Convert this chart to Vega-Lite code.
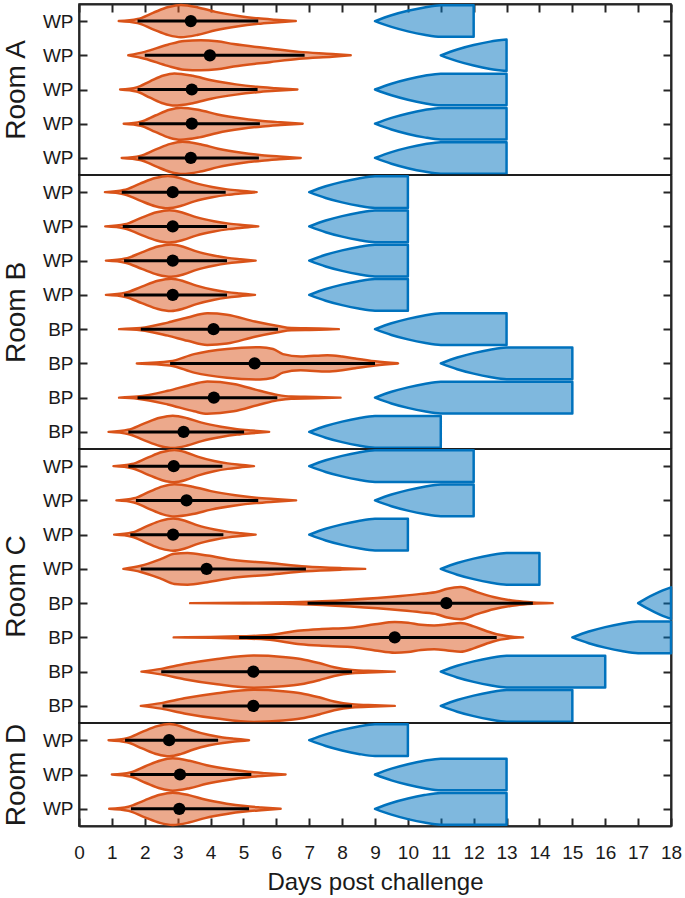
{
"$schema":"https://vega.github.io/schema/vega-lite/v6.json",
"padding":{"left":1,"top":2,"right":5,"bottom":4},
"spacing":0,
"bounds":"flush",
"datasets":{
"A":[
{"k":"v","r":1,"x":1.21,"lo":1,"hi":1},{"k":"v","r":1,"x":1.78,"lo":0.94,"hi":1.06},{"k":"v","r":1,"x":2.25,"lo":0.76,"hi":1.24},{"k":"v","r":1,"x":2.72,"lo":0.59,"hi":1.41},{"k":"v","r":1,"x":3.1,"lo":0.53,"hi":1.47},{"k":"v","r":1,"x":3.62,"lo":0.6,"hi":1.4},{"k":"v","r":1,"x":4.15,"lo":0.73,"hi":1.27},{"k":"v","r":1,"x":4.85,"lo":0.85,"hi":1.15},{"k":"v","r":1,"x":5.44,"lo":0.92,"hi":1.08},{"k":"v","r":1,"x":5.96,"lo":0.96,"hi":1.04},{"k":"v","r":1,"x":6.59,"lo":1,"hi":1},
{"k":"v","r":2,"x":1.5,"lo":2,"hi":2},{"k":"v","r":2,"x":2.0,"lo":1.9,"hi":2.1},{"k":"v","r":2,"x":2.7,"lo":1.69,"hi":2.31},{"k":"v","r":2,"x":3.2,"lo":1.58,"hi":2.42},{"k":"v","r":2,"x":3.7,"lo":1.56,"hi":2.44},{"k":"v","r":2,"x":4.2,"lo":1.59,"hi":2.41},{"k":"v","r":2,"x":4.7,"lo":1.67,"hi":2.33},{"k":"v","r":2,"x":5.8,"lo":1.8,"hi":2.2},{"k":"v","r":2,"x":6.7,"lo":1.9,"hi":2.1},{"k":"v","r":2,"x":7.7,"lo":1.96,"hi":2.04},{"k":"v","r":2,"x":8.26,"lo":2,"hi":2},
{"k":"v","r":3,"x":1.25,"lo":3,"hi":3},{"k":"v","r":3,"x":1.75,"lo":2.94,"hi":3.06},{"k":"v","r":3,"x":2.16,"lo":2.76,"hi":3.24},{"k":"v","r":3,"x":2.57,"lo":2.59,"hi":3.41},{"k":"v","r":3,"x":2.9,"lo":2.53,"hi":3.47},{"k":"v","r":3,"x":3.46,"lo":2.6,"hi":3.4},{"k":"v","r":3,"x":4.02,"lo":2.73,"hi":3.27},{"k":"v","r":3,"x":4.77,"lo":2.85,"hi":3.15},{"k":"v","r":3,"x":5.41,"lo":2.92,"hi":3.08},{"k":"v","r":3,"x":5.97,"lo":2.96,"hi":3.04},{"k":"v","r":3,"x":6.64,"lo":3,"hi":3},
{"k":"v","r":4,"x":1.36,"lo":4,"hi":4},{"k":"v","r":4,"x":1.88,"lo":3.94,"hi":4.06},{"k":"v","r":4,"x":2.32,"lo":3.76,"hi":4.24},{"k":"v","r":4,"x":2.75,"lo":3.59,"hi":4.41},{"k":"v","r":4,"x":3.1,"lo":3.53,"hi":4.47},{"k":"v","r":4,"x":3.66,"lo":3.6,"hi":4.4},{"k":"v","r":4,"x":4.21,"lo":3.73,"hi":4.27},{"k":"v","r":4,"x":4.95,"lo":3.85,"hi":4.15},{"k":"v","r":4,"x":5.58,"lo":3.92,"hi":4.08},{"k":"v","r":4,"x":6.13,"lo":3.96,"hi":4.04},{"k":"v","r":4,"x":6.8,"lo":4,"hi":4},
{"k":"v","r":5,"x":1.3,"lo":5,"hi":5},{"k":"v","r":5,"x":1.86,"lo":4.94,"hi":5.06},{"k":"v","r":5,"x":2.32,"lo":4.76,"hi":5.24},{"k":"v","r":5,"x":2.78,"lo":4.59,"hi":5.41},{"k":"v","r":5,"x":3.15,"lo":4.53,"hi":5.47},{"k":"v","r":5,"x":3.69,"lo":4.6,"hi":5.4},{"k":"v","r":5,"x":4.23,"lo":4.73,"hi":5.27},{"k":"v","r":5,"x":4.95,"lo":4.85,"hi":5.15},{"k":"v","r":5,"x":5.56,"lo":4.92,"hi":5.08},{"k":"v","r":5,"x":6.09,"lo":4.96,"hi":5.04},{"k":"v","r":5,"x":6.74,"lo":5,"hi":5},
{"k":"b","r":1,"x":9,"lo":1,"hi":1},{"k":"b","r":1,"x":9.5,"lo":0.83,"hi":1.17},{"k":"b","r":1,"x":10,"lo":0.7,"hi":1.3},{"k":"b","r":1,"x":10.5,"lo":0.6,"hi":1.4},{"k":"b","r":1,"x":11,"lo":0.54,"hi":1.46},{"k":"b","r":1,"x":12,"lo":0.54,"hi":1.46},
{"k":"b","r":2,"x":11,"lo":2,"hi":2},{"k":"b","r":2,"x":11.5,"lo":1.83,"hi":2.17},{"k":"b","r":2,"x":12,"lo":1.7,"hi":2.3},{"k":"b","r":2,"x":12.5,"lo":1.6,"hi":2.4},{"k":"b","r":2,"x":13,"lo":1.54,"hi":2.46},
{"k":"b","r":3,"x":9,"lo":3,"hi":3},{"k":"b","r":3,"x":9.5,"lo":2.83,"hi":3.17},{"k":"b","r":3,"x":10,"lo":2.7,"hi":3.3},{"k":"b","r":3,"x":10.5,"lo":2.6,"hi":3.4},{"k":"b","r":3,"x":11,"lo":2.54,"hi":3.46},{"k":"b","r":3,"x":13,"lo":2.54,"hi":3.46},
{"k":"b","r":4,"x":9,"lo":4,"hi":4},{"k":"b","r":4,"x":9.5,"lo":3.83,"hi":4.17},{"k":"b","r":4,"x":10,"lo":3.7,"hi":4.3},{"k":"b","r":4,"x":10.5,"lo":3.6,"hi":4.4},{"k":"b","r":4,"x":11,"lo":3.54,"hi":4.46},{"k":"b","r":4,"x":13,"lo":3.54,"hi":4.46},
{"k":"b","r":5,"x":9,"lo":5,"hi":5},{"k":"b","r":5,"x":9.5,"lo":4.83,"hi":5.17},{"k":"b","r":5,"x":10,"lo":4.7,"hi":5.3},{"k":"b","r":5,"x":10.5,"lo":4.6,"hi":5.4},{"k":"b","r":5,"x":11,"lo":4.54,"hi":5.46},{"k":"b","r":5,"x":13,"lo":4.54,"hi":5.46},
{"k":"s","r":1,"m":3.4,"cl":1.78,"ch":5.45},{"k":"s","r":2,"m":3.98,"cl":2.0,"ch":6.86},{"k":"s","r":3,"m":3.43,"cl":1.78,"ch":5.43},{"k":"s","r":4,"m":3.43,"cl":1.83,"ch":5.5},{"k":"s","r":5,"m":3.4,"cl":1.8,"ch":5.47}
],
"B":[
{"k":"v","r":1,"x":0.79,"lo":1,"hi":1},{"k":"v","r":1,"x":1.36,"lo":0.94,"hi":1.06},{"k":"v","r":1,"x":1.84,"lo":0.76,"hi":1.24},{"k":"v","r":1,"x":2.32,"lo":0.59,"hi":1.41},{"k":"v","r":1,"x":2.7,"lo":0.53,"hi":1.47},{"k":"v","r":1,"x":3.11,"lo":0.6,"hi":1.4},{"k":"v","r":1,"x":3.51,"lo":0.73,"hi":1.27},{"k":"v","r":1,"x":4.05,"lo":0.85,"hi":1.15},{"k":"v","r":1,"x":4.51,"lo":0.92,"hi":1.08},{"k":"v","r":1,"x":4.91,"lo":0.96,"hi":1.04},{"k":"v","r":1,"x":5.4,"lo":1,"hi":1},
{"k":"v","r":2,"x":0.8,"lo":2,"hi":2},{"k":"v","r":2,"x":1.39,"lo":1.94,"hi":2.06},{"k":"v","r":2,"x":1.87,"lo":1.76,"hi":2.24},{"k":"v","r":2,"x":2.36,"lo":1.59,"hi":2.41},{"k":"v","r":2,"x":2.75,"lo":1.53,"hi":2.47},{"k":"v","r":2,"x":3.16,"lo":1.6,"hi":2.4},{"k":"v","r":2,"x":3.56,"lo":1.73,"hi":2.27},{"k":"v","r":2,"x":4.1,"lo":1.85,"hi":2.15},{"k":"v","r":2,"x":4.56,"lo":1.92,"hi":2.08},{"k":"v","r":2,"x":4.96,"lo":1.96,"hi":2.04},{"k":"v","r":2,"x":5.45,"lo":2,"hi":2},
{"k":"v","r":3,"x":0.82,"lo":3,"hi":3},{"k":"v","r":3,"x":1.41,"lo":2.94,"hi":3.06},{"k":"v","r":3,"x":1.91,"lo":2.76,"hi":3.24},{"k":"v","r":3,"x":2.4,"lo":2.59,"hi":3.41},{"k":"v","r":3,"x":2.8,"lo":2.53,"hi":3.47},{"k":"v","r":3,"x":3.19,"lo":2.6,"hi":3.4},{"k":"v","r":3,"x":3.57,"lo":2.73,"hi":3.27},{"k":"v","r":3,"x":4.09,"lo":2.85,"hi":3.15},{"k":"v","r":3,"x":4.52,"lo":2.92,"hi":3.08},{"k":"v","r":3,"x":4.91,"lo":2.96,"hi":3.04},{"k":"v","r":3,"x":5.37,"lo":3,"hi":3},
{"k":"v","r":4,"x":0.82,"lo":4,"hi":4},{"k":"v","r":4,"x":1.41,"lo":3.94,"hi":4.06},{"k":"v","r":4,"x":1.91,"lo":3.76,"hi":4.24},{"k":"v","r":4,"x":2.4,"lo":3.59,"hi":4.41},{"k":"v","r":4,"x":2.8,"lo":3.53,"hi":4.47},{"k":"v","r":4,"x":3.18,"lo":3.6,"hi":4.4},{"k":"v","r":4,"x":3.57,"lo":3.73,"hi":4.27},{"k":"v","r":4,"x":4.08,"lo":3.85,"hi":4.15},{"k":"v","r":4,"x":4.51,"lo":3.92,"hi":4.08},{"k":"v","r":4,"x":4.89,"lo":3.96,"hi":4.04},{"k":"v","r":4,"x":5.35,"lo":4,"hi":4},
{"k":"v","r":5,"x":1.22,"lo":5,"hi":5},{"k":"v","r":5,"x":1.88,"lo":4.97,"hi":5.03},{"k":"v","r":5,"x":2.7,"lo":4.81,"hi":5.19},{"k":"v","r":5,"x":3.3,"lo":4.66,"hi":5.34},{"k":"v","r":5,"x":3.9,"lo":4.54,"hi":5.46},{"k":"v","r":5,"x":4.5,"lo":4.58,"hi":5.42},{"k":"v","r":5,"x":5.35,"lo":4.78,"hi":5.22},{"k":"v","r":5,"x":6.05,"lo":4.91,"hi":5.09},{"k":"v","r":5,"x":6.45,"lo":4.97,"hi":5.03},{"k":"v","r":5,"x":7.3,"lo":4.98,"hi":5.02},{"k":"v","r":5,"x":7.9,"lo":5,"hi":5},
{"k":"v","r":6,"x":1.76,"lo":6,"hi":6},{"k":"v","r":6,"x":2.77,"lo":5.94,"hi":6.06},{"k":"v","r":6,"x":3.5,"lo":5.73,"hi":6.27},{"k":"v","r":6,"x":4.5,"lo":5.58,"hi":6.42},{"k":"v","r":6,"x":5.5,"lo":5.53,"hi":6.47},{"k":"v","r":6,"x":5.9,"lo":5.58,"hi":6.42},{"k":"v","r":6,"x":6.2,"lo":5.73,"hi":6.27},{"k":"v","r":6,"x":6.74,"lo":5.8,"hi":6.2},{"k":"v","r":6,"x":7.55,"lo":5.76,"hi":6.24},{"k":"v","r":6,"x":8.0,"lo":5.8,"hi":6.2},{"k":"v","r":6,"x":8.4,"lo":5.86,"hi":6.14},{"k":"v","r":6,"x":9.0,"lo":5.94,"hi":6.06},{"k":"v","r":6,"x":9.7,"lo":6,"hi":6},
{"k":"v","r":7,"x":1.22,"lo":7,"hi":7},{"k":"v","r":7,"x":1.78,"lo":6.97,"hi":7.03},{"k":"v","r":7,"x":2.7,"lo":6.8,"hi":7.2},{"k":"v","r":7,"x":3.5,"lo":6.6,"hi":7.4},{"k":"v","r":7,"x":3.9,"lo":6.53,"hi":7.47},{"k":"v","r":7,"x":4.7,"lo":6.6,"hi":7.4},{"k":"v","r":7,"x":5.5,"lo":6.8,"hi":7.2},{"k":"v","r":7,"x":6.03,"lo":6.92,"hi":7.08},{"k":"v","r":7,"x":6.45,"lo":6.97,"hi":7.03},{"k":"v","r":7,"x":7.2,"lo":6.98,"hi":7.02},{"k":"v","r":7,"x":7.95,"lo":7,"hi":7},
{"k":"v","r":8,"x":0.9,"lo":8,"hi":8},{"k":"v","r":8,"x":1.49,"lo":7.94,"hi":8.06},{"k":"v","r":8,"x":1.97,"lo":7.76,"hi":8.24},{"k":"v","r":8,"x":2.46,"lo":7.59,"hi":8.41},{"k":"v","r":8,"x":2.85,"lo":7.53,"hi":8.47},{"k":"v","r":8,"x":3.29,"lo":7.6,"hi":8.4},{"k":"v","r":8,"x":3.73,"lo":7.73,"hi":8.27},{"k":"v","r":8,"x":4.32,"lo":7.85,"hi":8.15},{"k":"v","r":8,"x":4.81,"lo":7.92,"hi":8.08},{"k":"v","r":8,"x":5.25,"lo":7.96,"hi":8.04},{"k":"v","r":8,"x":5.78,"lo":8,"hi":8},
{"k":"b","r":1,"x":7,"lo":1,"hi":1},{"k":"b","r":1,"x":7.5,"lo":0.83,"hi":1.17},{"k":"b","r":1,"x":8,"lo":0.7,"hi":1.3},{"k":"b","r":1,"x":8.5,"lo":0.6,"hi":1.4},{"k":"b","r":1,"x":9,"lo":0.54,"hi":1.46},{"k":"b","r":1,"x":10,"lo":0.54,"hi":1.46},
{"k":"b","r":2,"x":7,"lo":2,"hi":2},{"k":"b","r":2,"x":7.5,"lo":1.83,"hi":2.17},{"k":"b","r":2,"x":8,"lo":1.7,"hi":2.3},{"k":"b","r":2,"x":8.5,"lo":1.6,"hi":2.4},{"k":"b","r":2,"x":9,"lo":1.54,"hi":2.46},{"k":"b","r":2,"x":10,"lo":1.54,"hi":2.46},
{"k":"b","r":3,"x":7,"lo":3,"hi":3},{"k":"b","r":3,"x":7.5,"lo":2.83,"hi":3.17},{"k":"b","r":3,"x":8,"lo":2.7,"hi":3.3},{"k":"b","r":3,"x":8.5,"lo":2.6,"hi":3.4},{"k":"b","r":3,"x":9,"lo":2.54,"hi":3.46},{"k":"b","r":3,"x":10,"lo":2.54,"hi":3.46},
{"k":"b","r":4,"x":7,"lo":4,"hi":4},{"k":"b","r":4,"x":7.5,"lo":3.83,"hi":4.17},{"k":"b","r":4,"x":8,"lo":3.7,"hi":4.3},{"k":"b","r":4,"x":8.5,"lo":3.6,"hi":4.4},{"k":"b","r":4,"x":9,"lo":3.54,"hi":4.46},{"k":"b","r":4,"x":10,"lo":3.54,"hi":4.46},
{"k":"b","r":5,"x":9,"lo":5,"hi":5},{"k":"b","r":5,"x":9.5,"lo":4.83,"hi":5.17},{"k":"b","r":5,"x":10,"lo":4.7,"hi":5.3},{"k":"b","r":5,"x":10.5,"lo":4.6,"hi":5.4},{"k":"b","r":5,"x":11,"lo":4.54,"hi":5.46},{"k":"b","r":5,"x":13,"lo":4.54,"hi":5.46},
{"k":"b","r":6,"x":11,"lo":6,"hi":6},{"k":"b","r":6,"x":11.5,"lo":5.83,"hi":6.17},{"k":"b","r":6,"x":12,"lo":5.7,"hi":6.3},{"k":"b","r":6,"x":12.5,"lo":5.6,"hi":6.4},{"k":"b","r":6,"x":13,"lo":5.54,"hi":6.46},{"k":"b","r":6,"x":15,"lo":5.54,"hi":6.46},
{"k":"b","r":7,"x":9,"lo":7,"hi":7},{"k":"b","r":7,"x":9.5,"lo":6.83,"hi":7.17},{"k":"b","r":7,"x":10,"lo":6.7,"hi":7.3},{"k":"b","r":7,"x":10.5,"lo":6.6,"hi":7.4},{"k":"b","r":7,"x":11,"lo":6.54,"hi":7.46},{"k":"b","r":7,"x":15,"lo":6.54,"hi":7.46},
{"k":"b","r":8,"x":7,"lo":8,"hi":8},{"k":"b","r":8,"x":7.5,"lo":7.83,"hi":8.17},{"k":"b","r":8,"x":8,"lo":7.7,"hi":8.3},{"k":"b","r":8,"x":8.5,"lo":7.6,"hi":8.4},{"k":"b","r":8,"x":9,"lo":7.54,"hi":8.46},{"k":"b","r":8,"x":11,"lo":7.54,"hi":8.46},
{"k":"s","r":1,"m":2.85,"cl":1.3,"ch":4.46},{"k":"s","r":2,"m":2.85,"cl":1.33,"ch":4.5},{"k":"s","r":3,"m":2.85,"cl":1.37,"ch":4.5},{"k":"s","r":4,"m":2.85,"cl":1.37,"ch":4.5},{"k":"s","r":5,"m":4.09,"cl":1.88,"ch":6.05},{"k":"s","r":6,"m":5.34,"cl":2.77,"ch":9.0},{"k":"s","r":7,"m":4.1,"cl":1.78,"ch":6.03},{"k":"s","r":8,"m":3.18,"cl":1.5,"ch":5.02}
],
"C":[
{"k":"v","r":1,"x":1.05,"lo":1,"hi":1},{"k":"v","r":1,"x":1.61,"lo":0.94,"hi":1.06},{"k":"v","r":1,"x":2.07,"lo":0.76,"hi":1.24},{"k":"v","r":1,"x":2.53,"lo":0.59,"hi":1.41},{"k":"v","r":1,"x":2.9,"lo":0.53,"hi":1.47},{"k":"v","r":1,"x":3.26,"lo":0.6,"hi":1.4},{"k":"v","r":1,"x":3.63,"lo":0.73,"hi":1.27},{"k":"v","r":1,"x":4.11,"lo":0.85,"hi":1.15},{"k":"v","r":1,"x":4.52,"lo":0.92,"hi":1.08},{"k":"v","r":1,"x":4.88,"lo":0.96,"hi":1.04},{"k":"v","r":1,"x":5.32,"lo":1,"hi":1},
{"k":"v","r":2,"x":1.14,"lo":2,"hi":2},{"k":"v","r":2,"x":1.67,"lo":1.94,"hi":2.06},{"k":"v","r":2,"x":2.11,"lo":1.76,"hi":2.24},{"k":"v","r":2,"x":2.55,"lo":1.59,"hi":2.41},{"k":"v","r":2,"x":2.9,"lo":1.53,"hi":2.47},{"k":"v","r":2,"x":3.46,"lo":1.6,"hi":2.4},{"k":"v","r":2,"x":4.01,"lo":1.73,"hi":2.27},{"k":"v","r":2,"x":4.75,"lo":1.85,"hi":2.15},{"k":"v","r":2,"x":5.38,"lo":1.92,"hi":2.08},{"k":"v","r":2,"x":5.93,"lo":1.96,"hi":2.04},{"k":"v","r":2,"x":6.6,"lo":2,"hi":2},
{"k":"v","r":3,"x":1.07,"lo":3,"hi":3},{"k":"v","r":3,"x":1.61,"lo":2.94,"hi":3.06},{"k":"v","r":3,"x":2.05,"lo":2.76,"hi":3.24},{"k":"v","r":3,"x":2.5,"lo":2.59,"hi":3.41},{"k":"v","r":3,"x":2.86,"lo":2.53,"hi":3.47},{"k":"v","r":3,"x":3.24,"lo":2.6,"hi":3.4},{"k":"v","r":3,"x":3.61,"lo":2.73,"hi":3.27},{"k":"v","r":3,"x":4.12,"lo":2.85,"hi":3.15},{"k":"v","r":3,"x":4.54,"lo":2.92,"hi":3.08},{"k":"v","r":3,"x":4.92,"lo":2.96,"hi":3.04},{"k":"v","r":3,"x":5.37,"lo":3,"hi":3},
{"k":"v","r":4,"x":1.35,"lo":4,"hi":4},{"k":"v","r":4,"x":1.88,"lo":3.91,"hi":4.09},{"k":"v","r":4,"x":2.5,"lo":3.71,"hi":4.29},{"k":"v","r":4,"x":2.9,"lo":3.56,"hi":4.44},{"k":"v","r":4,"x":3.3,"lo":3.54,"hi":4.46},{"k":"v","r":4,"x":3.9,"lo":3.61,"hi":4.39},{"k":"v","r":4,"x":4.7,"lo":3.74,"hi":4.26},{"k":"v","r":4,"x":5.8,"lo":3.83,"hi":4.17},{"k":"v","r":4,"x":6.9,"lo":3.93,"hi":4.07},{"k":"v","r":4,"x":8.0,"lo":3.98,"hi":4.02},{"k":"v","r":4,"x":8.7,"lo":4,"hi":4},
{"k":"v","r":5,"x":3.38,"lo":5,"hi":5},{"k":"v","r":5,"x":5.0,"lo":4.99,"hi":5.01},{"k":"v","r":5,"x":6.74,"lo":4.97,"hi":5.03},{"k":"v","r":5,"x":8.26,"lo":4.9,"hi":5.1},{"k":"v","r":5,"x":9.78,"lo":4.79,"hi":5.21},{"k":"v","r":5,"x":10.4,"lo":4.73,"hi":5.27},{"k":"v","r":5,"x":10.9,"lo":4.67,"hi":5.33},{"k":"v","r":5,"x":11.2,"lo":4.58,"hi":5.42},{"k":"v","r":5,"x":11.6,"lo":4.53,"hi":5.47},{"k":"v","r":5,"x":12.1,"lo":4.68,"hi":5.32},{"k":"v","r":5,"x":12.6,"lo":4.82,"hi":5.18},{"k":"v","r":5,"x":13.3,"lo":4.94,"hi":5.06},{"k":"v","r":5,"x":13.8,"lo":4.98,"hi":5.02},{"k":"v","r":5,"x":14.4,"lo":5,"hi":5},
{"k":"v","r":6,"x":2.88,"lo":6,"hi":6},{"k":"v","r":6,"x":4.0,"lo":5.99,"hi":6.01},{"k":"v","r":6,"x":4.87,"lo":5.97,"hi":6.03},{"k":"v","r":6,"x":5.7,"lo":5.94,"hi":6.06},{"k":"v","r":6,"x":6.74,"lo":5.8,"hi":6.2},{"k":"v","r":6,"x":7.3,"lo":5.76,"hi":6.24},{"k":"v","r":6,"x":8.26,"lo":5.72,"hi":6.28},{"k":"v","r":6,"x":9.0,"lo":5.62,"hi":6.38},{"k":"v","r":6,"x":9.6,"lo":5.55,"hi":6.45},{"k":"v","r":6,"x":10.0,"lo":5.57,"hi":6.43},{"k":"v","r":6,"x":10.4,"lo":5.63,"hi":6.37},{"k":"v","r":6,"x":10.8,"lo":5.65,"hi":6.35},{"k":"v","r":6,"x":11.2,"lo":5.62,"hi":6.38},{"k":"v","r":6,"x":11.6,"lo":5.58,"hi":6.42},{"k":"v","r":6,"x":12.0,"lo":5.68,"hi":6.32},{"k":"v","r":6,"x":12.4,"lo":5.82,"hi":6.18},{"k":"v","r":6,"x":12.7,"lo":5.91,"hi":6.09},{"k":"v","r":6,"x":13.0,"lo":5.96,"hi":6.04},{"k":"v","r":6,"x":13.5,"lo":6,"hi":6},
{"k":"v","r":7,"x":1.9,"lo":7,"hi":7},{"k":"v","r":7,"x":2.5,"lo":6.92,"hi":7.08},{"k":"v","r":7,"x":3.2,"lo":6.78,"hi":7.22},{"k":"v","r":7,"x":4.2,"lo":6.63,"hi":7.37},{"k":"v","r":7,"x":5.3,"lo":6.53,"hi":7.47},{"k":"v","r":7,"x":6.2,"lo":6.57,"hi":7.43},{"k":"v","r":7,"x":6.74,"lo":6.63,"hi":7.37},{"k":"v","r":7,"x":7.3,"lo":6.75,"hi":7.25},{"k":"v","r":7,"x":7.76,"lo":6.87,"hi":7.13},{"k":"v","r":7,"x":8.3,"lo":6.95,"hi":7.05},{"k":"v","r":7,"x":9.0,"lo":6.98,"hi":7.02},{"k":"v","r":7,"x":9.6,"lo":7,"hi":7},
{"k":"v","r":8,"x":1.88,"lo":8,"hi":8},{"k":"v","r":8,"x":2.5,"lo":7.92,"hi":8.08},{"k":"v","r":8,"x":3.2,"lo":7.78,"hi":8.22},{"k":"v","r":8,"x":4.2,"lo":7.63,"hi":8.37},{"k":"v","r":8,"x":5.3,"lo":7.53,"hi":8.47},{"k":"v","r":8,"x":6.2,"lo":7.57,"hi":8.43},{"k":"v","r":8,"x":6.74,"lo":7.63,"hi":8.37},{"k":"v","r":8,"x":7.3,"lo":7.75,"hi":8.25},{"k":"v","r":8,"x":7.76,"lo":7.87,"hi":8.13},{"k":"v","r":8,"x":8.3,"lo":7.95,"hi":8.05},{"k":"v","r":8,"x":9.0,"lo":7.98,"hi":8.02},{"k":"v","r":8,"x":9.6,"lo":8,"hi":8},
{"k":"b","r":1,"x":7,"lo":1,"hi":1},{"k":"b","r":1,"x":7.5,"lo":0.83,"hi":1.17},{"k":"b","r":1,"x":8,"lo":0.7,"hi":1.3},{"k":"b","r":1,"x":8.5,"lo":0.6,"hi":1.4},{"k":"b","r":1,"x":9,"lo":0.54,"hi":1.46},{"k":"b","r":1,"x":12,"lo":0.54,"hi":1.46},
{"k":"b","r":2,"x":9,"lo":2,"hi":2},{"k":"b","r":2,"x":9.5,"lo":1.83,"hi":2.17},{"k":"b","r":2,"x":10,"lo":1.7,"hi":2.3},{"k":"b","r":2,"x":10.5,"lo":1.6,"hi":2.4},{"k":"b","r":2,"x":11,"lo":1.54,"hi":2.46},{"k":"b","r":2,"x":12,"lo":1.54,"hi":2.46},
{"k":"b","r":3,"x":7,"lo":3,"hi":3},{"k":"b","r":3,"x":7.5,"lo":2.83,"hi":3.17},{"k":"b","r":3,"x":8,"lo":2.7,"hi":3.3},{"k":"b","r":3,"x":8.5,"lo":2.6,"hi":3.4},{"k":"b","r":3,"x":9,"lo":2.54,"hi":3.46},{"k":"b","r":3,"x":10,"lo":2.54,"hi":3.46},
{"k":"b","r":4,"x":11,"lo":4,"hi":4},{"k":"b","r":4,"x":11.5,"lo":3.83,"hi":4.17},{"k":"b","r":4,"x":12,"lo":3.7,"hi":4.3},{"k":"b","r":4,"x":12.5,"lo":3.6,"hi":4.4},{"k":"b","r":4,"x":13,"lo":3.54,"hi":4.46},{"k":"b","r":4,"x":14,"lo":3.54,"hi":4.46},
{"k":"b","r":5,"x":17,"lo":5,"hi":5},{"k":"b","r":5,"x":17.25,"lo":4.86,"hi":5.14},{"k":"b","r":5,"x":17.5,"lo":4.74,"hi":5.26},{"k":"b","r":5,"x":17.75,"lo":4.63,"hi":5.37},{"k":"b","r":5,"x":18,"lo":4.54,"hi":5.46},
{"k":"b","r":6,"x":15,"lo":6,"hi":6},{"k":"b","r":6,"x":15.5,"lo":5.83,"hi":6.17},{"k":"b","r":6,"x":16,"lo":5.7,"hi":6.3},{"k":"b","r":6,"x":16.5,"lo":5.6,"hi":6.4},{"k":"b","r":6,"x":17,"lo":5.54,"hi":6.46},{"k":"b","r":6,"x":18,"lo":5.54,"hi":6.46},
{"k":"b","r":7,"x":11,"lo":7,"hi":7},{"k":"b","r":7,"x":11.5,"lo":6.83,"hi":7.17},{"k":"b","r":7,"x":12,"lo":6.7,"hi":7.3},{"k":"b","r":7,"x":12.5,"lo":6.6,"hi":7.4},{"k":"b","r":7,"x":13,"lo":6.54,"hi":7.46},{"k":"b","r":7,"x":16,"lo":6.54,"hi":7.46},
{"k":"b","r":8,"x":11,"lo":8,"hi":8},{"k":"b","r":8,"x":11.5,"lo":7.83,"hi":8.17},{"k":"b","r":8,"x":12,"lo":7.7,"hi":8.3},{"k":"b","r":8,"x":12.5,"lo":7.6,"hi":8.4},{"k":"b","r":8,"x":13,"lo":7.54,"hi":8.46},{"k":"b","r":8,"x":15,"lo":7.54,"hi":8.46},
{"k":"s","r":1,"m":2.88,"cl":1.5,"ch":4.36},{"k":"s","r":2,"m":3.27,"cl":1.73,"ch":5.45},{"k":"s","r":3,"m":2.86,"cl":1.56,"ch":4.39},{"k":"s","r":4,"m":3.88,"cl":1.88,"ch":6.9},{"k":"s","r":5,"m":11.17,"cl":6.95,"ch":13.8},{"k":"s","r":6,"m":9.6,"cl":4.87,"ch":12.7},{"k":"s","r":7,"m":5.3,"cl":2.5,"ch":8.3},{"k":"s","r":8,"m":5.3,"cl":2.54,"ch":8.3}
],
"D":[
{"k":"v","r":1,"x":0.9,"lo":1,"hi":1},{"k":"v","r":1,"x":1.46,"lo":0.94,"hi":1.06},{"k":"v","r":1,"x":1.92,"lo":0.76,"hi":1.24},{"k":"v","r":1,"x":2.38,"lo":0.59,"hi":1.41},{"k":"v","r":1,"x":2.75,"lo":0.53,"hi":1.47},{"k":"v","r":1,"x":3.11,"lo":0.6,"hi":1.4},{"k":"v","r":1,"x":3.48,"lo":0.73,"hi":1.27},{"k":"v","r":1,"x":3.96,"lo":0.85,"hi":1.15},{"k":"v","r":1,"x":4.37,"lo":0.92,"hi":1.08},{"k":"v","r":1,"x":4.73,"lo":0.96,"hi":1.04},{"k":"v","r":1,"x":5.17,"lo":1,"hi":1},
{"k":"v","r":2,"x":1.0,"lo":2,"hi":2},{"k":"v","r":2,"x":1.56,"lo":1.94,"hi":2.06},{"k":"v","r":2,"x":2.02,"lo":1.76,"hi":2.24},{"k":"v","r":2,"x":2.48,"lo":1.59,"hi":2.41},{"k":"v","r":2,"x":2.85,"lo":1.53,"hi":2.47},{"k":"v","r":2,"x":3.36,"lo":1.6,"hi":2.4},{"k":"v","r":2,"x":3.88,"lo":1.73,"hi":2.27},{"k":"v","r":2,"x":4.57,"lo":1.85,"hi":2.15},{"k":"v","r":2,"x":5.15,"lo":1.92,"hi":2.08},{"k":"v","r":2,"x":5.66,"lo":1.96,"hi":2.04},{"k":"v","r":2,"x":6.28,"lo":2,"hi":2},
{"k":"v","r":3,"x":0.92,"lo":3,"hi":3},{"k":"v","r":3,"x":1.5,"lo":2.94,"hi":3.06},{"k":"v","r":3,"x":1.98,"lo":2.76,"hi":3.24},{"k":"v","r":3,"x":2.46,"lo":2.59,"hi":3.41},{"k":"v","r":3,"x":2.85,"lo":2.53,"hi":3.47},{"k":"v","r":3,"x":3.34,"lo":2.6,"hi":3.4},{"k":"v","r":3,"x":3.83,"lo":2.73,"hi":3.27},{"k":"v","r":3,"x":4.49,"lo":2.85,"hi":3.15},{"k":"v","r":3,"x":5.05,"lo":2.92,"hi":3.08},{"k":"v","r":3,"x":5.54,"lo":2.96,"hi":3.04},{"k":"v","r":3,"x":6.13,"lo":3,"hi":3},
{"k":"b","r":1,"x":7,"lo":1,"hi":1},{"k":"b","r":1,"x":7.5,"lo":0.83,"hi":1.17},{"k":"b","r":1,"x":8,"lo":0.7,"hi":1.3},{"k":"b","r":1,"x":8.5,"lo":0.6,"hi":1.4},{"k":"b","r":1,"x":9,"lo":0.54,"hi":1.46},{"k":"b","r":1,"x":10,"lo":0.54,"hi":1.46},
{"k":"b","r":2,"x":9,"lo":2,"hi":2},{"k":"b","r":2,"x":9.5,"lo":1.83,"hi":2.17},{"k":"b","r":2,"x":10,"lo":1.7,"hi":2.3},{"k":"b","r":2,"x":10.5,"lo":1.6,"hi":2.4},{"k":"b","r":2,"x":11,"lo":1.54,"hi":2.46},{"k":"b","r":2,"x":13,"lo":1.54,"hi":2.46},
{"k":"b","r":3,"x":9,"lo":3,"hi":3},{"k":"b","r":3,"x":9.5,"lo":2.83,"hi":3.17},{"k":"b","r":3,"x":10,"lo":2.7,"hi":3.3},{"k":"b","r":3,"x":10.5,"lo":2.6,"hi":3.4},{"k":"b","r":3,"x":11,"lo":2.54,"hi":3.46},{"k":"b","r":3,"x":13,"lo":2.54,"hi":3.46},
{"k":"s","r":1,"m":2.74,"cl":1.4,"ch":4.23},{"k":"s","r":2,"m":3.07,"cl":1.56,"ch":5.24},{"k":"s","r":3,"m":3.05,"cl":1.58,"ch":5.17}
]
},
"vconcat":[
{"width":592,"height":171,"data":{"name":"A"},
 "layer":[
  {"transform":[{"filter":"datum.k=='v'"}],"mark":{"type":"area","orient":"vertical","interpolate":"monotone","fill":"#D95319","fillOpacity":0.5,"stroke":"#D95319","strokeWidth":2.5,"strokeJoin":"round"},
   "encoding":{"x":{"field":"x","type":"quantitative","scale":{"domain":[0,18],"nice":false,"zero":false},"axis":null},
    "y":{"field":"lo","type":"quantitative","stack":null,"scale":{"domain":[0.5,5.5],"reverse":true,"nice":false,"zero":false},"axis":{"orient":"left","values":[1,2,3,4,5],"labelExpr":"'WP'","title":"Room A"}},
    "y2":{"field":"hi"},"detail":{"field":"r","type":"nominal"}}},
  {"transform":[{"filter":"datum.k=='b'"}],"mark":{"type":"area","orient":"vertical","interpolate":"monotone","fill":"#0072BD","fillOpacity":0.5,"stroke":"#0072BD","strokeWidth":2.5,"strokeJoin":"round"},
   "encoding":{"x":{"field":"x","type":"quantitative","scale":{"domain":[0,18],"nice":false,"zero":false},"axis":{"orient":"top","values":[0,1,2,3,4,5,6,7,8,9,10,11,12,13,14,15,16,17,18],"labels":false,"title":null}},
    "y":{"field":"lo","type":"quantitative","stack":null,"scale":{"domain":[0.5,5.5],"reverse":true,"nice":false,"zero":false},"axis":{"orient":"right","values":[1,2,3,4,5],"labels":false,"title":null}},
    "y2":{"field":"hi"},"detail":{"field":"r","type":"nominal"}}},
  {"transform":[{"filter":"datum.k=='s'"}],"mark":{"type":"rule","color":"#000000","strokeWidth":3},
   "encoding":{"x":{"field":"cl","type":"quantitative","axis":null},"x2":{"field":"ch"},"y":{"field":"r","type":"quantitative","axis":null}}},
  {"transform":[{"filter":"datum.k=='s'"}],"mark":{"type":"point","filled":true,"color":"#000000","size":150,"opacity":1},
   "encoding":{"x":{"field":"m","type":"quantitative","axis":null},"y":{"field":"r","type":"quantitative","axis":null}}}
 ],
 "resolve":{"axis":{"x":"independent","y":"independent"}}},
{"width":592,"height":274,"data":{"name":"B"},
 "layer":[
  {"transform":[{"filter":"datum.k=='v'"}],"mark":{"type":"area","orient":"vertical","interpolate":"monotone","fill":"#D95319","fillOpacity":0.5,"stroke":"#D95319","strokeWidth":2.5,"strokeJoin":"round"},
   "encoding":{"x":{"field":"x","type":"quantitative","scale":{"domain":[0,18],"nice":false,"zero":false},"axis":null},
    "y":{"field":"lo","type":"quantitative","stack":null,"scale":{"domain":[0.5,8.5],"reverse":true,"nice":false,"zero":false},"axis":{"orient":"left","values":[1,2,3,4,5,6,7,8],"labelExpr":"datum.value <= 4 ? 'WP' : 'BP'","title":"Room B"}},
    "y2":{"field":"hi"},"detail":{"field":"r","type":"nominal"}}},
  {"transform":[{"filter":"datum.k=='b'"}],"mark":{"type":"area","orient":"vertical","interpolate":"monotone","fill":"#0072BD","fillOpacity":0.5,"stroke":"#0072BD","strokeWidth":2.5,"strokeJoin":"round"},
   "encoding":{"x":{"field":"x","type":"quantitative","scale":{"domain":[0,18],"nice":false,"zero":false},"axis":null},
    "y":{"field":"lo","type":"quantitative","stack":null,"scale":{"domain":[0.5,8.5],"reverse":true,"nice":false,"zero":false},"axis":{"orient":"right","values":[1,2,3,4,5,6,7,8],"labels":false,"title":null}},
    "y2":{"field":"hi"},"detail":{"field":"r","type":"nominal"}}},
  {"transform":[{"filter":"datum.k=='s'"}],"mark":{"type":"rule","color":"#000000","strokeWidth":3},
   "encoding":{"x":{"field":"cl","type":"quantitative","axis":null},"x2":{"field":"ch"},"y":{"field":"r","type":"quantitative","axis":null}}},
  {"transform":[{"filter":"datum.k=='s'"}],"mark":{"type":"point","filled":true,"color":"#000000","size":150,"opacity":1},
   "encoding":{"x":{"field":"m","type":"quantitative","axis":null},"y":{"field":"r","type":"quantitative","axis":null}}}
 ],
 "resolve":{"axis":{"x":"independent","y":"independent"}}},
{"width":592,"height":274,"data":{"name":"C"},
 "layer":[
  {"transform":[{"filter":"datum.k=='v'"}],"mark":{"type":"area","orient":"vertical","interpolate":"monotone","fill":"#D95319","fillOpacity":0.5,"stroke":"#D95319","strokeWidth":2.5,"strokeJoin":"round"},
   "encoding":{"x":{"field":"x","type":"quantitative","scale":{"domain":[0,18],"nice":false,"zero":false},"axis":null},
    "y":{"field":"lo","type":"quantitative","stack":null,"scale":{"domain":[0.5,8.5],"reverse":true,"nice":false,"zero":false},"axis":{"orient":"left","values":[1,2,3,4,5,6,7,8],"labelExpr":"datum.value <= 4 ? 'WP' : 'BP'","title":"Room C"}},
    "y2":{"field":"hi"},"detail":{"field":"r","type":"nominal"}}},
  {"transform":[{"filter":"datum.k=='b'"}],"mark":{"type":"area","orient":"vertical","interpolate":"monotone","fill":"#0072BD","fillOpacity":0.5,"stroke":"#0072BD","strokeWidth":2.5,"strokeJoin":"round"},
   "encoding":{"x":{"field":"x","type":"quantitative","scale":{"domain":[0,18],"nice":false,"zero":false},"axis":null},
    "y":{"field":"lo","type":"quantitative","stack":null,"scale":{"domain":[0.5,8.5],"reverse":true,"nice":false,"zero":false},"axis":{"orient":"right","values":[1,2,3,4,5,6,7,8],"labels":false,"title":null}},
    "y2":{"field":"hi"},"detail":{"field":"r","type":"nominal"}}},
  {"transform":[{"filter":"datum.k=='s'"}],"mark":{"type":"rule","color":"#000000","strokeWidth":3},
   "encoding":{"x":{"field":"cl","type":"quantitative","axis":null},"x2":{"field":"ch"},"y":{"field":"r","type":"quantitative","axis":null}}},
  {"transform":[{"filter":"datum.k=='s'"}],"mark":{"type":"point","filled":true,"color":"#000000","size":150,"opacity":1},
   "encoding":{"x":{"field":"m","type":"quantitative","axis":null},"y":{"field":"r","type":"quantitative","axis":null}}}
 ],
 "resolve":{"axis":{"x":"independent","y":"independent"}}},
{"width":592,"height":103,"data":{"name":"D"},
 "layer":[
  {"transform":[{"filter":"datum.k=='v'"}],"mark":{"type":"area","orient":"vertical","interpolate":"monotone","fill":"#D95319","fillOpacity":0.5,"stroke":"#D95319","strokeWidth":2.5,"strokeJoin":"round"},
   "encoding":{"x":{"field":"x","type":"quantitative","scale":{"domain":[0,18],"nice":false,"zero":false},"axis":{"orient":"bottom","values":[0,1,2,3,4,5,6,7,8,9,10,11,12,13,14,15,16,17,18],"title":"Days post challenge","titleFontSize":24,"labelPadding":25,"titlePadding":8}},
    "y":{"field":"lo","type":"quantitative","stack":null,"scale":{"domain":[0.5,3.5],"reverse":true,"nice":false,"zero":false},"axis":{"orient":"left","values":[1,2,3],"labelExpr":"'WP'","title":"Room D"}},
    "y2":{"field":"hi"},"detail":{"field":"r","type":"nominal"}}},
  {"transform":[{"filter":"datum.k=='b'"}],"mark":{"type":"area","orient":"vertical","interpolate":"monotone","fill":"#0072BD","fillOpacity":0.5,"stroke":"#0072BD","strokeWidth":2.5,"strokeJoin":"round"},
   "encoding":{"x":{"field":"x","type":"quantitative","scale":{"domain":[0,18],"nice":false,"zero":false},"axis":null},
    "y":{"field":"lo","type":"quantitative","stack":null,"scale":{"domain":[0.5,3.5],"reverse":true,"nice":false,"zero":false},"axis":{"orient":"right","values":[1,2,3],"labels":false,"title":null}},
    "y2":{"field":"hi"},"detail":{"field":"r","type":"nominal"}}},
  {"transform":[{"filter":"datum.k=='s'"}],"mark":{"type":"rule","color":"#000000","strokeWidth":3},
   "encoding":{"x":{"field":"cl","type":"quantitative","axis":null},"x2":{"field":"ch"},"y":{"field":"r","type":"quantitative","axis":null}}},
  {"transform":[{"filter":"datum.k=='s'"}],"mark":{"type":"point","filled":true,"color":"#000000","size":150,"opacity":1},
   "encoding":{"x":{"field":"m","type":"quantitative","axis":null},"y":{"field":"r","type":"quantitative","axis":null}}}
 ],
 "resolve":{"axis":{"x":"independent","y":"independent"}}}
],
"config":{
 "view":{"stroke":"#111111","strokeWidth":1.5},
 "font":"Liberation Sans",
 "axis":{"labelFont":"Liberation Sans","titleFont":"Liberation Sans","labelFontSize":19,"titleFontSize":28,"titleFontWeight":"normal","labelColor":"#1a1a1a","titleColor":"#1a1a1a","tickColor":"#262626","domainColor":"#262626","tickWidth":2,"domainWidth":2,"tickSize":-8,"grid":false,"labelFlush":false,"labelOverlap":false,"labelPadding":14,"titlePadding":12}
}
}
